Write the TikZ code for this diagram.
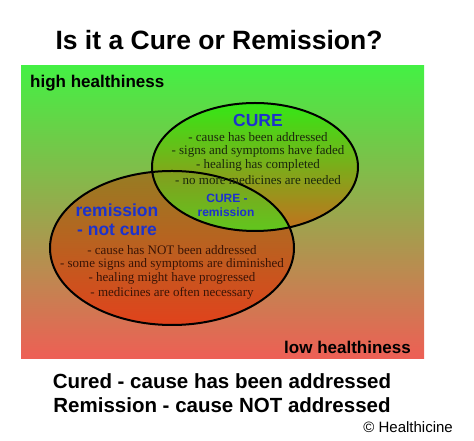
\documentclass[tikz,border=0pt]{standalone}
\usepackage{fontspec}
\setmainfont{Liberation Sans}
\newfontfamily\listfont{Liberation Serif}
\definecolor{bgtop}{RGB}{68,240,68}
\definecolor{bgbot}{RGB}{238,95,85}
\definecolor{curetop}{RGB}{52,232,22}
\definecolor{curebot}{RGB}{196,112,30}
\definecolor{remtop}{RGB}{150,125,35}
\definecolor{remmid}{RGB}{196,100,30}
\definecolor{rembot}{RGB}{225,66,28}
\definecolor{inttop}{RGB}{132,155,30}
\definecolor{intbot}{RGB}{96,200,30}
\definecolor{labelblue}{RGB}{28,50,205}
\definecolor{curetext}{RGB}{26,40,12}
\definecolor{remtext}{RGB}{58,20,6}
\tikzset{
  outline/.style={draw=black, line width=2pt},
  headline/.style={font=\bfseries\fontsize{26.5}{30}\selectfont, inner sep=0pt},
  corner/.style={font=\bfseries\fontsize{17}{20}\selectfont, inner sep=0pt},
  bigblue/.style={font=\bfseries\fontsize{17.5}{20}\selectfont, text=labelblue, inner sep=0pt, align=center},
  smallblue/.style={font=\bfseries\fontsize{12}{14}\selectfont, text=labelblue, inner sep=0pt, align=center},
  curelist/.style={font=\listfont\fontsize{13}{14.5}\selectfont, text=curetext, inner sep=0pt, align=center},
  remlist/.style={font=\listfont\fontsize{13}{14.5}\selectfont, text=remtext, inner sep=0pt, align=center},
  bottomline/.style={font=\bfseries\fontsize{20.5}{24}\selectfont, inner sep=0pt},
}
\begin{document}
\begin{tikzpicture}[x=1pt,y=1pt]
\useasboundingbox (0,0) rectangle (474,441);
% background
\shade[top color=bgtop, bottom color=bgbot] (21,82) rectangle (424,375);
\coordinate (cc) at (255,274);
\coordinate (rc) at (172,193);
% ellipses fills
\shade[top color=remtop, middle color=remmid, bottom color=rembot] (rc) ellipse [x radius=122, y radius=77];
\shade[top color=curetop, bottom color=curebot] (cc) ellipse [x radius=103, y radius=64];
\begin{scope}
  \clip (cc) ellipse [x radius=103, y radius=64];
  \clip (rc) ellipse [x radius=122, y radius=77];
  \shade[top color=inttop, bottom color=intbot] (148,208) rectangle (296,272);
\end{scope}
% outlines
\draw[outline] (rc) ellipse [x radius=122, y radius=77];
\draw[outline] (cc) ellipse [x radius=103, y radius=64];
% texts
\node[headline] (title) at (219,401) {Is it a Cure or Remission?};
\node[corner, anchor=west] (high) at (30,358) {high healthiness};
\node[corner, anchor=east] (low) at (411,94) {low healthiness};
\node[bigblue] (cure) at (258,321) {CURE};
\node[curelist] (curel1) at (258,304) {- cause has been addressed};
\node[curelist] (curel2) at (258,290) {- signs and symptoms have faded};
\node[curelist] (curel3) at (258,275.5) {- healing has completed};
\node[curelist] (curel4) at (258,261) {- no more medicines are needed};
\node[smallblue] (both1) at (227,243) {CURE -};
\node[smallblue] (both2) at (226,229) {remission};
\node[bigblue] (rem1) at (117,231) {remission};
\node[bigblue] (rem2) at (117,211) {- not cure};
\node[remlist] (reml1) at (172,191) {- cause has NOT been addressed};
\node[remlist] (reml2) at (172,177) {- some signs and symptoms are diminished};
\node[remlist] (reml3) at (172,162.5) {- healing might have progressed};
\node[remlist] (reml4) at (172,148) {- medicines are often necessary};
\node[bottomline] (sum1) at (222,60) {Cured - cause has been addressed};
\node[bottomline] (sum2) at (222,36) {Remission - cause NOT addressed};
\node[font=\fontsize{15}{18}\selectfont, inner sep=0pt, anchor=east] (copy) at (453,14) {© Healthicine};
\end{tikzpicture}
\end{document}
